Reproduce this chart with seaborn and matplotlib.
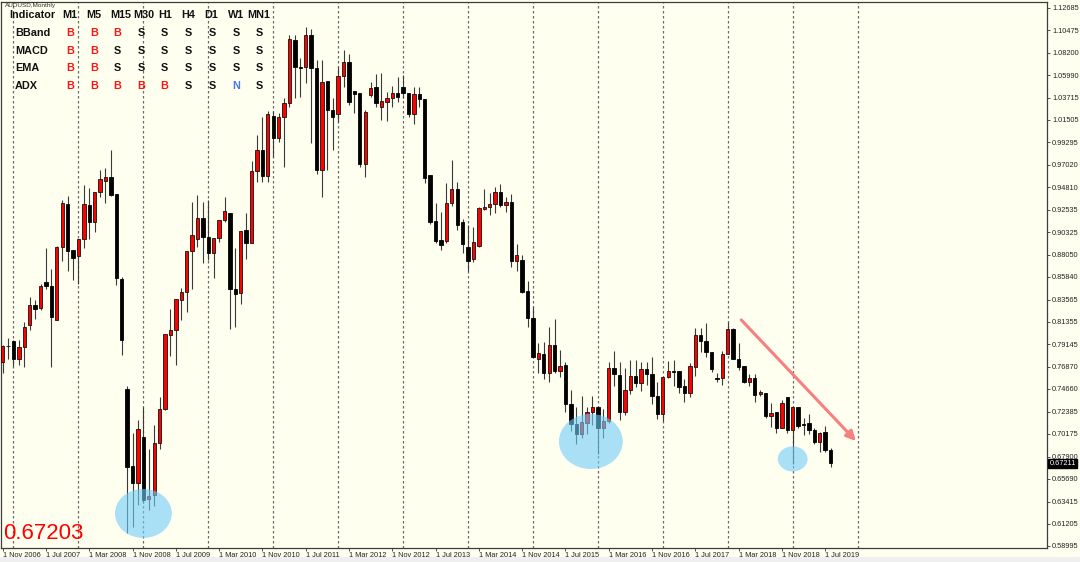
import numpy as np
import pandas as pd
import matplotlib
matplotlib.use("Agg")
import matplotlib.pyplot as plt
import matplotlib.transforms as mtransforms
from matplotlib.patches import Ellipse, Rectangle
import seaborn as sns

# Datos mensuales AUDUSD (nov 2006 - ago 2019)
opens = [
    0.7736, 0.7890,
    0.7946, 0.7766, 0.7880, 0.8102, 0.8302, 0.8272, 0.8532, 0.8498, 0.8159, 0.8885, 0.9311, 0.8851,
    0.8795, 0.8958, 0.9301, 0.9131, 0.9431, 0.9544, 0.9577, 0.9408, 0.8562, 0.7462, 0.6696, 0.6530,
    0.6983, 0.6372, 0.6407, 0.6923, 0.7269, 0.8009, 0.8059, 0.8352, 0.8435, 0.8841, 0.8958, 0.9168,
    0.8985, 0.8825, 0.8968, 0.9151, 0.9224, 0.8459, 0.8419, 0.9051, 0.8925, 0.9644, 0.9850, 0.9591,
    1.0190, 0.9967, 1.0177, 1.0316, 1.0949, 1.0683, 1.0683, 1.0999, 1.0666, 0.9651, 1.0540, 1.0250,
    1.0207, 1.0593, 1.0733, 1.0443, 1.0416, 0.9711, 1.0400, 1.0476, 1.0276, 1.0333, 1.0366, 1.0423,
    1.0476, 1.0423, 1.0210, 1.0410, 1.0360, 0.9602, 0.9143, 0.8953, 0.8943, 0.9319, 0.9462, 0.9129,
    0.8880, 0.8763, 0.8893, 0.9266, 0.9279, 0.9309, 0.9429, 0.9302, 0.9329, 0.8743, 0.8753, 0.8443,
    0.8170, 0.7761, 0.7811, 0.7621, 0.7904, 0.7648, 0.7704, 0.7314, 0.7121, 0.7015, 0.7128, 0.7238,
    0.7288, 0.7078, 0.7148, 0.7671, 0.7604, 0.7240, 0.7456, 0.7596, 0.7529, 0.7666, 0.7612, 0.7396,
    0.7216, 0.7589, 0.7649, 0.7649, 0.7496, 0.7429, 0.7689, 0.8005, 0.7949, 0.7839, 0.7572, 0.7572,
    0.7812, 0.8062, 0.7766, 0.7696, 0.7539, 0.7572, 0.7416, 0.7429, 0.7196, 0.7240, 0.7080, 0.7389,
    0.7056, 0.7283, 0.7113, 0.7130, 0.7056, 0.6940, 0.7040, 0.6857,
]
highs = [
    0.7905, 0.7970,
    0.7950, 0.7950, 0.8136, 0.8385, 0.8350, 0.8518, 0.8868, 0.8668, 0.8890, 0.9351, 0.9394, 0.8855,
    0.8962, 0.9501, 0.9468, 0.9430, 0.9651, 0.9667, 0.9850, 0.9410, 0.8585, 0.7496, 0.7023, 0.7156,
    0.7282, 0.6863, 0.7106, 0.7389, 0.8015, 0.8268, 0.8362, 0.8475, 0.8841, 0.9334, 0.9401, 0.9334,
    0.9351, 0.8968, 0.9151, 0.9384, 0.9224, 0.8868, 0.9045, 0.9218, 0.9744, 1.0000, 1.0183, 1.0243,
    1.0243, 1.0217, 1.0366, 1.0999, 1.0999, 1.0766, 1.1076, 1.1056, 1.0749, 1.0749, 1.0540, 1.0373,
    1.0683, 1.0849, 1.0806, 1.0443, 1.0416, 1.0250, 1.0533, 1.0606, 1.0623, 1.0433, 1.0489, 1.0576,
    1.0599, 1.0423, 1.0483, 1.0483, 1.0360, 0.9602, 0.9319, 0.9236, 0.9526, 0.9750, 0.9536, 0.9159,
    0.9103, 0.9086, 0.9286, 0.9459, 0.9419, 0.9486, 0.9512, 0.9379, 0.9409, 0.8910, 0.8803, 0.8547,
    0.8287, 0.7921, 0.7937, 0.8080, 0.8163, 0.7854, 0.7737, 0.7454, 0.7288, 0.7394, 0.7288, 0.7394,
    0.7294, 0.7271, 0.7737, 0.7844, 0.7731, 0.7672, 0.7756, 0.7756, 0.7739, 0.7739, 0.7782, 0.7539,
    0.7589, 0.7749, 0.7756, 0.7649, 0.7562, 0.7722, 0.8072, 0.8072, 0.8129, 0.7839, 0.7622, 0.7845,
    0.8139, 0.8072, 0.7922, 0.7696, 0.7616, 0.7616, 0.7456, 0.7429, 0.7323, 0.7240, 0.7356, 0.7389,
    0.7283, 0.7289, 0.7180, 0.7216, 0.7073, 0.7040, 0.7096, 0.6873,
]
lows = [
    0.7622, 0.7770,
    0.7700, 0.7705, 0.7686, 0.8059, 0.8169, 0.8252, 0.8459, 0.7686, 0.8153, 0.8745, 0.8645, 0.8550,
    0.8518, 0.8875, 0.8958, 0.9028, 0.9384, 0.9324, 0.9391, 0.8502, 0.7802, 0.6024, 0.6090, 0.6307,
    0.6330, 0.6257, 0.6297, 0.6863, 0.7256, 0.7793, 0.7703, 0.8152, 0.8235, 0.8468, 0.8885, 0.8728,
    0.8752, 0.8578, 0.8935, 0.9135, 0.8069, 0.8085, 0.8319, 0.8768, 0.8925, 0.9534, 0.9534, 0.9534,
    0.9784, 0.9934, 0.9677, 1.0276, 1.0366, 1.0383, 1.0516, 0.9917, 0.9611, 0.9384, 0.9651, 0.9850,
    1.0133, 1.0483, 1.0300, 1.0217, 0.9684, 0.9577, 1.0376, 1.0276, 1.0150, 1.0143, 1.0276, 1.0333,
    1.0366, 1.0177, 1.0110, 1.0276, 0.9517, 0.9113, 0.8920, 0.8853, 0.8920, 0.9292, 0.9053, 0.8820,
    0.8646, 0.8736, 0.8886, 0.9252, 0.9202, 0.9226, 0.9286, 0.9236, 0.8686, 0.8646, 0.8427, 0.8087,
    0.7771, 0.7627, 0.7561, 0.7538, 0.7621, 0.7588, 0.7238, 0.7048, 0.6915, 0.6981, 0.7021, 0.7105,
    0.6822, 0.6981, 0.7122, 0.7494, 0.7155, 0.7206, 0.7416, 0.7489, 0.7449, 0.7506, 0.7316, 0.7163,
    0.7150, 0.7572, 0.7496, 0.7429, 0.7339, 0.7383, 0.7596, 0.7839, 0.7782, 0.7639, 0.7539, 0.7506,
    0.7812, 0.7762, 0.7656, 0.7522, 0.7496, 0.7339, 0.7396, 0.7173, 0.7083, 0.7030, 0.7073, 0.7030,
    0.6720, 0.7073, 0.7006, 0.7016, 0.6916, 0.6840, 0.6840, 0.6690,
]
closes = [
    0.7890, 0.7894,
    0.7766, 0.7880, 0.8086, 0.8302, 0.8265, 0.8498, 0.8495, 0.8186, 0.8885, 0.9318, 0.8845, 0.8775,
    0.8958, 0.9308, 0.9131, 0.9428, 0.9557, 0.9577, 0.9404, 0.8578, 0.7952, 0.6690, 0.6523, 0.7066,
    0.6363, 0.6399, 0.6923, 0.7269, 0.8015, 0.8059, 0.8362, 0.8435, 0.8841, 0.9001, 0.9168, 0.8978,
    0.8825, 0.8968, 0.9151, 0.9244, 0.8459, 0.8412, 0.9045, 0.8925, 0.9644, 0.9850, 0.9591, 1.0210,
    0.9967, 1.0177, 1.0316, 1.0959, 1.0676, 1.0673, 1.0999, 1.0666, 0.9651, 1.0533, 1.0250, 1.0183,
    1.0593, 1.0733, 1.0333, 1.0410, 0.9711, 1.0226, 1.0473, 1.0323, 1.0343, 1.0366, 1.0423, 1.0383,
    1.0423, 1.0210, 1.0410, 1.0360, 0.9571, 0.9136, 0.8946, 0.8903, 0.9319, 0.9462, 0.9103, 0.8910,
    0.8746, 0.8929, 0.9269, 0.9279, 0.9312, 0.9429, 0.9302, 0.9329, 0.8743, 0.8800, 0.8437, 0.8177,
    0.7781, 0.7821, 0.7621, 0.7904, 0.7648, 0.7694, 0.7314, 0.7121, 0.7015, 0.7138, 0.7238, 0.7288,
    0.7078, 0.7145, 0.7671, 0.7611, 0.7238, 0.7456, 0.7596, 0.7529, 0.7666, 0.7612, 0.7396, 0.7216,
    0.7589, 0.7646, 0.7639, 0.7489, 0.7429, 0.7696, 0.8005, 0.7949, 0.7839, 0.7662, 0.7562, 0.7812,
    0.8062, 0.7766, 0.7689, 0.7539, 0.7572, 0.7406, 0.7439, 0.7196, 0.7223, 0.7080, 0.7323, 0.7056,
    0.7283, 0.7096, 0.7103, 0.7056, 0.6940, 0.7030, 0.6857, 0.6723,
]

# Eje X: etiquetas cada 8 meses
xtick_pos = list(range(0, 153, 8))
xtick_labels = [
    "1 Nov 2006", "1 Jul 2007", "1 Mar 2008", "1 Nov 2008", "1 Jul 2009", "1 Mar 2010",
    "1 Nov 2010", "1 Jul 2011", "1 Mar 2012", "1 Nov 2012", "1 Jul 2013", "1 Mar 2014",
    "1 Nov 2014", "1 Jul 2015", "1 Mar 2016", "1 Nov 2016", "1 Jul 2017", "1 Mar 2018",
    "1 Nov 2018", "1 Jul 2019",
]
ytick_vals = [
    1.12685, 1.10475, 1.08200, 1.05990, 1.03715, 1.01505, 0.99295, 0.97020, 0.94810,
    0.92535, 0.90325, 0.88050, 0.85840, 0.83565, 0.81355, 0.79145, 0.76870, 0.74660,
    0.72385, 0.70175, 0.67900, 0.65690, 0.63415, 0.61205, 0.58995,
]
ytick_labels = [f"{v:.5f}" for v in ytick_vals]
last_bid = 0.67211
last_text = "0.67203"

# Tabla de senales
tf_cols = ["M1", "M5", "M15", "M30", "H1", "H4", "D1", "W1", "MN1"]
ind_rows = ["BBand", "MACD", "EMA", "ADX"]
signals = [
    ["B", "B", "B", "S", "S", "S", "S", "S", "S"],
    ["B", "B", "S", "S", "S", "S", "S", "S", "S"],
    ["B", "B", "S", "S", "S", "S", "S", "S", "S"],
    ["B", "B", "B", "B", "B", "S", "S", "N", "S"],
]
sig_colors = {"B": "#FF1414", "S": "#111111", "N": "#4A78E8"}

# Estilo
BG = "#FFFFF0"
sns.set_theme(style="ticks")
plt.rcParams["font.family"] = ["Liberation Sans", "DejaVu Sans"]

W, H = 1080, 562
fig = plt.figure(figsize=(W / 100, H / 100), dpi=100, facecolor=BG)
ax = fig.add_axes([1 / W, 1 - 548 / H, 1046 / W, 546 / H])
ax.set_facecolor(BG)

df = pd.DataFrame({"o": opens, "h": highs, "l": lows, "c": closes})
df["x"] = np.arange(len(df))
df["up"] = df["c"] >= df["o"]
df["lo"] = df[["o", "c"]].min(axis=1)
df["size"] = (df["c"] - df["o"]).abs().clip(lower=0.0007)

# Lineas verticales por ano (enero)
for gx in range(2, 160, 12):
    ax.axvline(gx, color="#6a6a6a", lw=0.9, ls=(0, (2, 2)), zorder=1)

# Velas
ax.vlines(df["x"], df["l"], df["h"], color="#3a3a3a", lw=0.8, zorder=2)
up = df[df["up"]]
dn = df[~df["up"]]
ax.bar(up["x"], up["size"], bottom=up["lo"], width=0.62, color="#FF0000",
       edgecolor="#111111", linewidth=0.6, zorder=3)
ax.bar(dn["x"], dn["size"], bottom=dn["lo"], width=0.62, color="#000000",
       edgecolor="#000000", linewidth=0.6, zorder=3)

# Zonas resaltadas
for cx, cy, ew, eh in [(26.0, 0.6224, 10.5, 0.0489), (108.7, 0.6942, 11.8, 0.0549),
                       (146.0, 0.6768, 5.5, 0.0250)]:
    ax.add_patch(Ellipse((cx, cy), ew, eh, facecolor=(0.44, 0.80, 0.975),
                         alpha=0.6, edgecolor="none", zorder=4))

# Flecha de tendencia
ax.annotate("", xy=(157.7, 0.6947), xytext=(136.5, 0.8155),
            arrowprops=dict(arrowstyle="-|>", color="#F77F7F", lw=2.2,
                            mutation_scale=14, shrinkA=0, shrinkB=0), zorder=5)

ax.set_xlim(-0.31, 193)
ax.set_ylim(0.5879, 1.1328)

ax.yaxis.tick_right()
ax.set_yticks(ytick_vals, ytick_labels)
ax.tick_params(axis="y", labelsize=5.3, length=2.5, width=0.6, pad=1.2,
               colors="#333333", labelcolor="#222222")
ax.set_xticks(xtick_pos, xtick_labels, ha="left")
ax.tick_params(axis="x", labelsize=5.3, length=2.5, width=0.6, pad=0.2,
               colors="#333333", labelcolor="#222222")
for sp in ax.spines.values():
    sp.set_color("#3c3c3c")
    sp.set_linewidth(0.9)

# Caja de precio actual
trans = mtransforms.blended_transform_factory(ax.transAxes, ax.transData)
ax.text(1.0 + 2.5 / 1046, last_bid, f"{last_bid:.5f}", transform=trans, ha="left",
        va="center", fontsize=5.3, color="white",
        bbox=dict(boxstyle="square,pad=0.15", fc="black", ec="black"), clip_on=False)

# Textos superpuestos (coordenadas en pixeles)
def ftext(px, py, s, **kw):
    fig.text(px / W, 1 - py / H, s, **kw)

ftext(5, 6, "AUDUSD,Monthly", fontsize=4.6, color="#333333", va="center")
ftext(9, 15, "Indicator", fontsize=7.8, fontweight="bold", va="center", color="#111111")
head_x = [70, 94, 121, 144, 165, 188, 211, 236, 259]
val_x = [70, 94, 117, 141, 164, 188, 212, 236, 259]
row_y = [33, 51, 68, 86]
for hx, name in zip(head_x, tf_cols):
    ftext(hx, 15, name, fontsize=7.8, fontweight="bold", ha="center", va="center",
          color="#111111")
for ry, name, row in zip(row_y, ind_rows, signals):
    ftext(15, ry, name, fontsize=7.8, fontweight="bold", va="center", color="#111111")
    for vx, s in zip(val_x, row):
        ftext(vx, ry, s, fontsize=7.8, fontweight="bold", ha="center", va="center",
              color=sig_colors[s])

ftext(3, 539, last_text, fontsize=16, color="#FF0000", va="baseline")

# Franja inferior gris
fig.patches.append(Rectangle((0, 0), 1, 5 / H, transform=fig.transFigure,
                             facecolor="#EFEFEF", edgecolor="none", zorder=0))

fig.savefig("out.png", dpi=100, facecolor=BG)
